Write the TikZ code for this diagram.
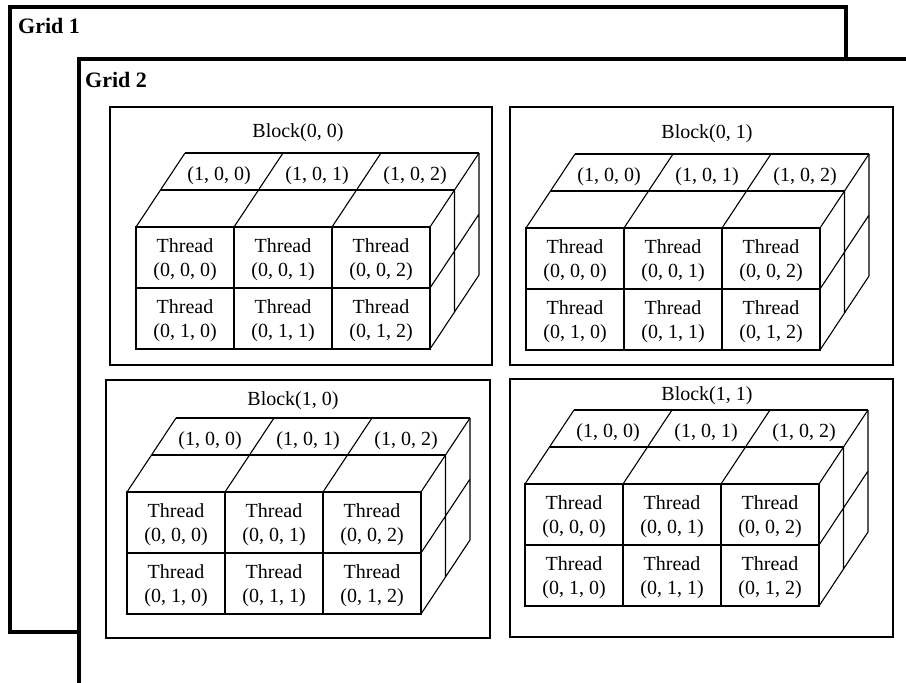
\documentclass[tikz,border=0pt]{standalone}
\usepackage{fontspec}
\setmainfont{Liberation Serif}
\tikzset{
  cubeline/.style={line width=1.1pt},
  gridframe/.style={line width=3.5pt, draw=black},
  blockframe/.style={line width=2.4pt, draw=black},
  threadlbl/.style={inner sep=0pt, align=center, font=\fontsize{20}{24}\selectfont},
  toplbl/.style={inner sep=0pt, font=\fontsize{20}{23}\selectfont},
  blocklbl/.style={inner sep=0pt, font=\fontsize{20}{23}\selectfont},
  gridlbl/.style={inner sep=0pt, anchor=base west, font=\fontsize{22}{25}\selectfont\bfseries},
  threadcube/.pic={
    \draw[cubeline] (0,0) rectangle (294,122);
    \draw[cubeline] (98,0) -- (98,122) (196,0) -- (196,122) (0,61) -- (294,61);
    \draw[cubeline] (24.5,-37) -- (318.5,-37) (49,-74) -- (343,-74);
    \foreach \k in {0,1,2,3} \draw[cubeline] (98*\k,0) -- ++(49,-74);
    \draw[cubeline] (318.5,-37) -- (318.5,85) (343,-74) -- (343,48)
                    (294,61) -- (343,-13) (294,122) -- (343,48);
    \foreach \c in {0,1,2}{
      \foreach \r in {0,1}{
        \node[threadlbl] (-t\r\c) at (49+98*\c, 33+61*\r) {Thread\\(0, \r, \c)};
      }
      \node[toplbl] (-top\c) at (83+98*\c, -51) {(1, 0, \c)};
    }
  }
}
\begin{document}
\begin{tikzpicture}[x=1pt,y=-1pt]
  \useasboundingbox (0,0) rectangle (906,683);
  \clip (0,0) rectangle (906,683);
  % Grid frames
  \draw[gridframe] (10,7) rectangle (846,632);
  \node[gridlbl] (g1) at (18,33) {Grid 1};
  \draw[gridframe, fill=white] (79,59) rectangle (940,720);
  \node[gridlbl] (g2) at (85,87) {Grid 2};
  % Block frames
  \draw[blockframe] (110,107) rectangle (492,365);
  \draw[blockframe] (510,107) rectangle (893,365);
  \draw[blockframe] (106,380) rectangle (490,638);
  \draw[blockframe] (510,379) rectangle (893,637);
  \node[blocklbl] (lb00) at (298,133) {Block(0, 0)};
  \node[blocklbl] (lb01) at (707,134) {Block(0, 1)};
  \node[blocklbl] (lb10) at (293,401) {Block(1, 0)};
  \node[blocklbl] (lb11) at (707,396) {Block(1, 1)};
  % Thread cubes
  \pic (c00) at (136,227) {threadcube};
  \pic (c01) at (526,228) {threadcube};
  \pic (c10) at (127,492) {threadcube};
  \pic (c11) at (525,484) {threadcube};
\end{tikzpicture}
\end{document}
